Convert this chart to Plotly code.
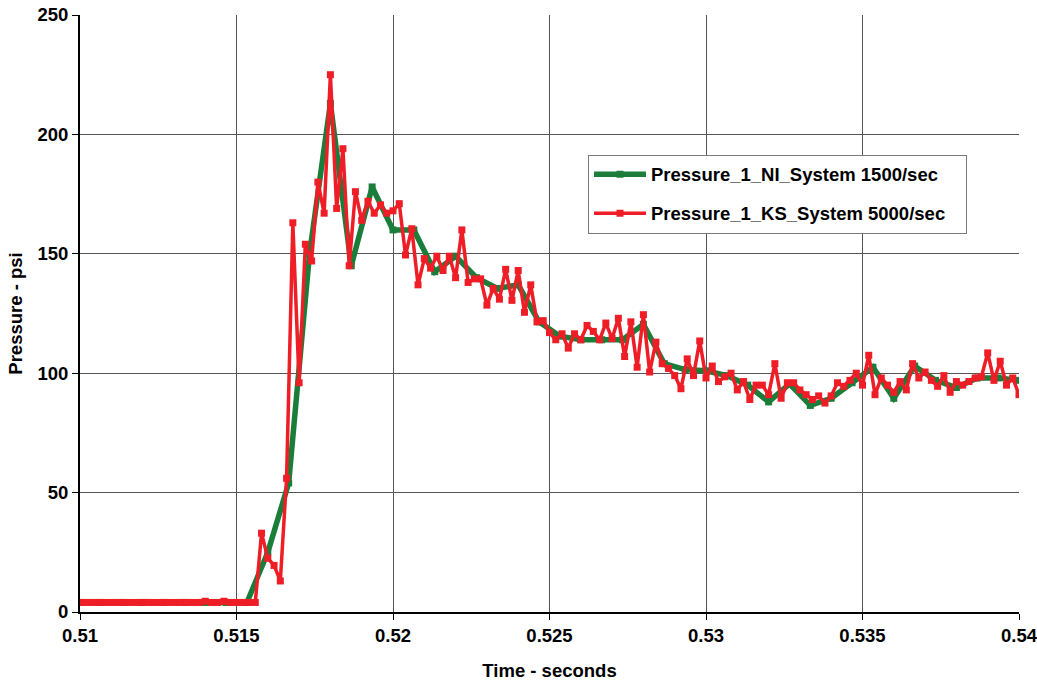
import plotly.graph_objects as go
import numpy as np

# ---- data ----
T_START = 0.51
NI_RATE = 1500   # samples / sec
KS_RATE = 5000   # samples / sec

ni_pressure = [
    4, 4, 4, 4, 4, 4, 4, 4, 4,
    25, 54, 150, 213, 145, 178, 160, 160, 142.5, 149, 140,
    135.5, 137, 121.5, 115.5, 114, 114, 114, 120.5, 104, 101.5,
    101, 99, 95, 88, 95.5, 86.5, 89.5, 96, 102.5, 89.5,
    103, 97, 94, 98, 98, 97,
]

ks_pressure = [
    4, 4, 4, 4, 4, 4, 4, 4, 4, 4,
    4, 4, 4, 4, 4, 4, 4, 4, 4, 4,
    4.5, 4, 4, 4.5, 4, 4, 4, 4, 4,
    33, 22.5, 19.5, 13, 56, 163, 96, 154, 147, 180,
    167, 225, 169, 194, 145, 176, 164, 172, 167, 170.5,
    167, 168, 171, 149.5, 160.5, 137, 148, 144, 149, 143,
    149, 140, 160, 138, 139.5, 139.5, 128.5, 135.5, 131, 143.5,
    130.5, 143, 125.5, 137, 121.5, 122, 117, 114, 116.5, 110.5,
    116.5, 114, 120, 117.5, 114, 121, 114.5, 123, 107, 121.5,
    102.5, 124.5, 100.5, 113, 104, 102, 99, 93.5, 106, 99,
    113.5, 98, 103, 96.5, 98.5, 100, 93, 96.5, 89, 95,
    95, 91, 104, 89.5, 96, 96, 93, 91, 89, 90.5,
    87.5, 90.5, 96, 94.5, 97, 100, 95, 107.5, 91, 98,
    95, 92, 96.5, 93, 104, 98, 100.5, 97, 94.5, 99,
    92, 96.5, 95, 96.5, 98, 98.5, 108.5, 97, 105, 95,
    98, 91,
]

ni_time = T_START + np.arange(len(ni_pressure)) / NI_RATE
ks_time = T_START + np.arange(len(ks_pressure)) / KS_RATE

series_names = ["Pressure_1_NI_System 1500/sec", "Pressure_1_KS_System 5000/sec"]
PAD = "\u00a0\u00a0\u00a0"

GREEN = "#1b7d3a"
RED = "#ee1d26"
FONT = "Liberation Sans, Arial, sans-serif"

fig = go.Figure()
fig.add_trace(go.Scatter(
    x=ni_time, y=ni_pressure, name=series_names[0] + PAD, mode="lines+markers",
    line=dict(color=GREEN, width=5.5),
    marker=dict(symbol="square", size=7, color=GREEN),
    legendgroup="a",
))
fig.add_trace(go.Scatter(
    x=ks_time, y=ks_pressure, name=series_names[1] + PAD, mode="lines+markers",
    line=dict(color=RED, width=3.5),
    marker=dict(symbol="square", size=7, color=RED),
    legendgroup="b",
))

fig.update_layout(
    width=1037, height=683,
    margin=dict(l=80, r=18, t=15, b=71),
    paper_bgcolor="white", plot_bgcolor="white",
    font=dict(family=FONT, size=18, color="black", weight="bold"),
    legend=dict(
        x=0.541, y=0.766, xanchor="left", yanchor="top",
        bgcolor="white", bordercolor="#7a7a7a", borderwidth=1,
        font=dict(family=FONT, size=18.5, color="black", weight="bold"),
        tracegroupgap=12, traceorder="grouped", itemwidth=52,
    ),
    xaxis=dict(
        range=[0.51, 0.54], dtick=0.005, tick0=0.51, automargin=False,
        ticklabeloverflow="allow",
        showgrid=True, gridcolor="#555555", gridwidth=1,
        showline=True, linecolor="black", linewidth=2,
        ticks="outside", ticklen=6, tickcolor="black", tickwidth=1,
        tickfont=dict(family=FONT, size=18.5, color="black", weight="bold"),
        title=dict(text="Time - seconds", standoff=19,
                   font=dict(family=FONT, size=18.5, color="black", weight="bold")),
        zeroline=False,
    ),
    yaxis=dict(
        range=[0, 250], dtick=50, automargin=False,
        ticklabeloverflow="allow",
        showgrid=True, gridcolor="#555555", gridwidth=1,
        showline=True, linecolor="black", linewidth=2,
        ticks="outside", ticklen=6, tickcolor="black", tickwidth=1,
        tickfont=dict(family=FONT, size=18.5, color="black", weight="bold"),
        title=dict(text="Pressure - psi", standoff=10,
                   font=dict(family=FONT, size=18.5, color="black", weight="bold")),
        zeroline=False,
    ),
)

fig.write_html(
    "out.html",
    config={"displayModeBar": False},
    post_script="document.body.style.margin='0';document.body.style.overflow='hidden';",
)
